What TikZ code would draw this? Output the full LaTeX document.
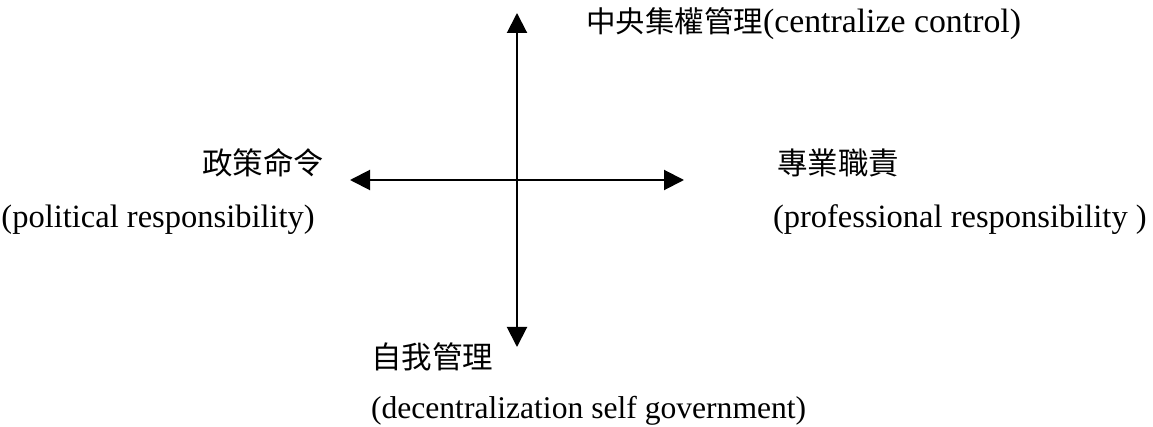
\documentclass[tikz,border=0pt]{standalone}
\usepackage{fontspec}
\setmainfont{Liberation Serif}
\newfontfamily\cjk{Noto Sans CJK TC}
\usetikzlibrary{arrows.meta}
\tikzset{
  axis/.style={line width=2pt, {Triangle[length=20pt,width=20pt]}-{Triangle[length=20pt,width=20pt]}},
  lbl/.style={anchor=base west, inner sep=0pt, outer sep=0pt},
}
\newcommand{\cjksize}{\fontsize{30.5}{34}\cjk}
\newcommand{\ensize}{\fontsize{32.5}{36}\rmfamily}
\begin{document}
\begin{tikzpicture}[x=1pt,y=-1pt]
\useasboundingbox (0,0) rectangle (1153,427);
\coordinate (top) at (517,13);
\coordinate (bot) at (517,347);
\coordinate (lft) at (350,180);
\coordinate (rgt) at (684,180);
\draw[axis] (bot) -- (top);
\draw[axis] (lft) -- (rgt);
\node[lbl] (central) at (586,33) {\fontsize{29.5}{33}\cjk 中央集權管理{\fontsize{33.8}{36}\rmfamily(centralize control)}};
\node[lbl] (polzh) at (202,175) {\cjksize 政策命令};
\node[lbl] (polen) at (1.5,228) {\ensize (political responsibility)};
\node[lbl] (profzh) at (777,175) {\cjksize 專業職責};
\node[lbl] (profen) at (773,228) {\ensize (professional responsibility )};
\node[lbl] (selfzh) at (371,368) {\cjksize 自我管理};
\node[lbl] (selfen) at (371,418) {\fontsize{31.6}{36}\rmfamily (decentralization self government)};
\end{tikzpicture}
\end{document}
